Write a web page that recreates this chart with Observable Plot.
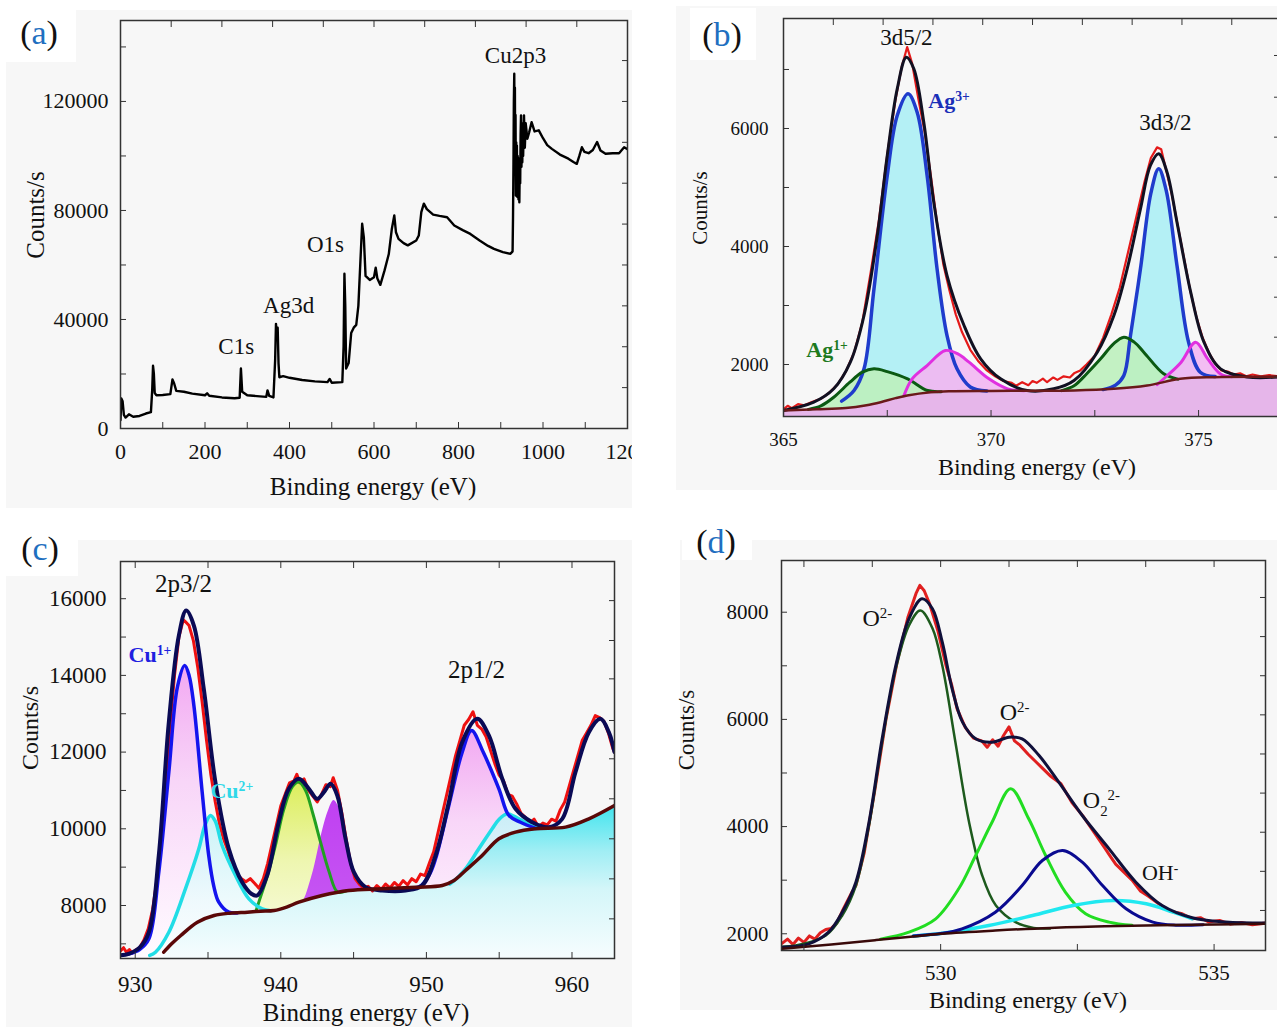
<!DOCTYPE html>
<html><head><meta charset="utf-8">
<script src="https://cdn.jsdelivr.net/npm/d3@7"></script>
<script src="https://cdn.jsdelivr.net/npm/@observablehq/plot@0.6"></script>
<style>
body{margin:0;width:1277px;height:1027px;overflow:hidden;background:#fff;position:relative;font-family:"Liberation Serif",serif;color:#111}
.box{position:absolute}
.t{position:absolute;white-space:nowrap;line-height:1;transform:translate(-50%,-50%)}
.r{transform:translate(-50%,-50%) rotate(-90deg)}
.lt span{color:#1f6fc0}
</style></head><body>
<script>
// ---------------- DATA ----------------
// (a) survey spectrum [binding energy eV, counts/s]
const survey = [[0,3000],[2,11000],[5,10000],[8,5000],[12,4000],[20,5200],[30,4300],[45,4600],[60,5500],[72,6000],[75,14000],[77,23000],[79,20000],[81,13000],[85,12200],[100,12300],[118,12600],[123,18000],[127,16500],[132,13800],[150,13500],[170,12800],[200,12200],[205,12900],[210,12000],[240,11400],[270,11100],[282,11300],[285,22000],[288,13500],[300,12200],[330,11800],[345,11600],[348,14000],[352,12000],[362,11400],[366,25000],[368,38400],[370,34000],[372,37000],[374,24000],[376,18800],[385,19200],[400,18600],[430,17800],[460,17300],[490,17000],[495,18200],[500,16800],[525,17000],[528,30000],[530,56800],[532,45000],[534,22000],[540,24000],[546,35000],[552,37000],[558,38000],[563,45000],[568,62000],[572,75100],[576,70000],[580,56000],[590,54500],[600,55500],[604,59000],[608,55000],[615,52700],[625,58000],[635,64000],[642,73000],[648,78200],[652,72000],[658,69600],[670,68000],[680,67200],[700,69000],[706,70800],[712,79400],[718,82500],[725,80500],[740,78500],[755,78000],[773,77500],[790,74500],[810,72800],[828,71400],[850,69000],[870,67000],[884,65900],[905,64700],[923,64100],[928,65000],[929,77000],[930,95000],[931,120000],[932,130200],[932.8,100000],[933.5,125000],[934.2,95000],[935,115000],[935.8,85500],[936.6,105000],[937.4,90000],[938.2,103800],[939,85000],[940,100000],[941,88000],[942,84000],[943,99000],[944,83000],[945,96000],[946,90000],[947,108000],[948,114900],[949,96000],[950,112000],[951,97700],[952,110000],[953,100000],[955,114900],[957,103000],[959,112000],[963,106300],[967,108500],[973,112400],[980,109000],[990,109400],[1000,106500],[1010,104000],[1021,102600],[1040,100500],[1060,99000],[1072,97800],[1080,97100],[1086,100000],[1092,103200],[1098,101500],[1108,101000],[1118,102200],[1128,105100],[1136,102000],[1148,100800],[1165,101000],[1180,101000],[1192,103200],[1200,102500]];
const aPeakNames = ["C1s","Ag3d","O1s","Cu2p3"];

// (b) Ag 3d
const bRaw = [[365.0,1240],[365.1,1300],[365.2,1260],[365.35,1330],[365.5,1310],[365.7,1370],[365.9,1420],[366.1,1520],[366.3,1660],[366.5,1880],[366.7,2200],[366.9,2720],[367.1,3560],[367.3,4450],[367.5,5560],[367.7,6500],[367.85,7050],[367.98,7380],[368.1,7100],[368.25,6500],[368.4,5950],[368.55,5200],[368.7,4400],[368.85,3700],[369.0,3250],[369.15,2850],[369.3,2550],[369.5,2250],[369.7,2050],[369.9,1900],[370.1,1800],[370.3,1720],[370.5,1690],[370.6,1640],[370.75,1700],[370.9,1650],[371.0,1720],[371.1,1690],[371.25,1760],[371.35,1700],[371.5,1780],[371.6,1740],[371.75,1800],[371.9,1780],[372.0,1850],[372.15,1900],[372.3,2000],[372.5,2150],[372.7,2450],[372.9,2850],[373.1,3300],[373.3,3900],[373.5,4500],[373.7,5100],[373.85,5500],[374.0,5680],[374.1,5650],[374.2,5350],[374.35,4900],[374.5,4350],[374.65,3800],[374.8,3250],[374.95,2800],[375.1,2450],[375.25,2200],[375.4,2020],[375.55,1900],[375.7,1880],[375.85,1830],[376.0,1850],[376.15,1800],[376.3,1830],[376.5,1800],[376.7,1820],[376.95,1800]];
const bEnvelope = [[365,1220],[365.73,1361],[366.21,1588],[366.61,2039],[366.94,2831],[367.26,4186],[367.5,5542],[367.74,6672],[367.96,7209],[368.14,7012],[368.38,6107],[368.62,4751],[368.94,3508],[369.35,2661],[369.75,2096],[370.23,1757],[370.87,1559],[371.51,1588],[372.0,1729],[372.56,2209],[372.96,2831],[373.28,3621],[373.6,4638],[373.84,5373],[374.04,5571],[374.24,5260],[374.48,4412],[374.81,3226],[375.13,2378],[375.53,1927],[376.17,1790],[376.95,1790]];
const bAg3_52 = [[366.4,1380],[366.7,1560],[366.94,1927],[367.18,3283],[367.5,5203],[367.74,6220],[368.0,6588],[368.22,6276],[368.46,5203],[368.7,3621],[368.94,2491],[369.18,1927],[369.5,1620],[369.9,1552]];
const bAg1_52 = [[365.6,1240],[365.9,1300],[366.21,1446],[366.6,1700],[366.9,1870],[367.18,1927],[367.5,1880],[367.99,1757],[368.47,1559],[368.8,1540]];
const bSat_52 = [[367.9,1470],[368.1,1757],[368.46,1983],[368.9,2237],[369.2,2180],[369.47,2040],[369.95,1757],[370.4,1588],[370.8,1556]];
const bAg3_32 = [[372.7,1575],[373.0,1650],[373.2,1814],[373.36,2491],[373.6,3621],[373.85,4900],[374.04,5317],[374.22,4950],[374.48,3678],[374.76,2378],[375.04,1870],[375.4,1795]];
const bAg1_32 = [[371.7,1558],[372.0,1640],[372.3,1840],[372.64,2096],[372.95,2350],[373.2,2463],[373.45,2380],[373.68,2209],[374.16,1842],[374.5,1752]];
const bSat_32 = [[374.0,1660],[374.25,1814],[374.58,2040],[374.93,2378],[375.22,2096],[375.53,1840],[375.8,1792]];
const bBackground = [[365,1220],[365.8,1240],[366.5,1262],[367,1310],[367.34,1362],[367.7,1430],[367.98,1475],[368.54,1531],[369,1548],[370,1553],[371,1556],[372,1560],[372.96,1588],[373.76,1644],[374.56,1757],[375.37,1785],[377,1790]];

// (c) Cu 2p
const cRaw = [[929.0,6820],[929.2,6900],[929.4,6780],[929.6,6850],[929.8,6760],[930.0,6830],[930.3,6900],[930.6,7100],[930.9,7400],[931.2,7900],[931.5,8700],[931.8,9800],[932.1,11200],[932.4,12700],[932.7,14000],[933.0,15000],[933.3,15450],[933.5,15380],[933.7,15300],[934.0,14900],[934.3,14200],[934.6,13300],[934.9,12300],[935.2,11400],[935.5,10700],[935.8,10100],[936.1,9700],[936.4,9400],[936.7,9000],[937.0,8800],[937.3,8700],[937.6,8620],[937.9,8700],[938.2,8580],[938.5,8450],[938.8,8700],[939.1,9100],[939.4,9600],[939.7,10100],[940.0,10600],[940.3,10900],[940.6,11200],[940.9,11250],[941.1,11420],[941.3,11200],[941.6,11300],[941.9,11000],[942.2,10850],[942.5,10700],[942.8,10900],[943.1,11150],[943.4,11100],[943.6,11330],[943.9,11000],[944.2,10400],[944.5,9700],[944.8,9100],[945.1,8700],[945.4,8550],[945.7,8450],[946.0,8500],[946.3,8380],[946.6,8520],[946.9,8420],[947.2,8560],[947.5,8460],[947.8,8600],[948.1,8500],[948.4,8650],[948.7,8540],[949.0,8700],[949.3,8620],[949.6,8820],[949.9,8780],[950.2,9100],[950.5,9400],[950.8,9900],[951.1,10400],[951.4,10900],[951.7,11400],[952.0,11900],[952.3,12300],[952.6,12700],[952.9,12850],[953.2,13050],[953.5,12700],[953.8,12600],[954.1,12400],[954.4,12050],[954.7,11700],[955.0,11400],[955.3,11250],[955.6,10900],[955.9,10850],[956.2,10650],[956.5,10400],[956.8,10300],[957.1,10150],[957.4,10250],[957.7,10050],[958.0,10150],[958.3,10100],[958.6,10250],[958.9,10200],[959.2,10500],[959.5,10700],[959.8,11100],[960.1,11500],[960.4,11900],[960.7,12300],[961.0,12500],[961.3,12700],[961.6,12950],[961.9,12900],[962.2,12800],[962.5,12500],[962.8,12100],[962.92,12000]];
const cEnvelope = [[929.0,6700],[929.55,6740],[930.3,6900],[930.94,7304],[931.62,9304],[932.31,12780],[933.0,15041],[933.5,15692],[934.03,15301],[934.71,13650],[935.51,11215],[936.43,9478],[937.35,8608],[938.0,8300],[938.38,8261],[939.06,8782],[939.86,10172],[940.55,11043],[941.24,11304],[941.93,11043],[942.5,10782],[942.96,10956],[943.42,11174],[943.88,10869],[944.45,9739],[945.02,8869],[945.82,8478],[946.97,8391],[948.57,8391],[949.71,8521],[950.63,9304],[951.54,10695],[952.46,12259],[953.49,12868],[954.29,12433],[955.21,11304],[956.12,10521],[957.27,10172],[958.41,10043],[959.33,10260],[960.24,11476],[961.16,12520],[961.96,12868],[962.53,12520],[962.92,12000]];
const cCu1_32 = [[929.6,6740],[930.3,6850],[930.94,7131],[931.62,8869],[932.31,11476],[932.9,13700],[933.4,14258],[933.7,14000],[934.03,13215],[934.6,10956],[935.05,9304],[935.4,8500],[935.74,8087],[936.43,7826],[937,7805]];
const cCu2_32 = [[931.0,6700],[931.39,6783],[932.31,7304],[933.45,8434],[934.37,9478],[934.8,10100],[935.17,10347],[935.5,10200],[935.97,9565],[936.89,8782],[937.81,8174],[938.72,7913],[939.3,7862]];
const cSatA = [[938.3,7860],[938.49,8087],[939.1,8800],[939.63,9565],[940.2,10500],[940.8,11100],[941.24,11217],[941.7,11000],[942.2,10400],[942.73,9652],[943.3,8900],[943.9,8350],[944.5,8380]];
const cSatB = [[941.2,8070],[941.47,8087],[942.15,8782],[942.84,9913],[943.3,10500],[943.65,10738],[944.0,10550],[944.22,10174],[944.67,9304],[945.1,8695],[945.7,8435],[946.2,8420]];
const cCu1_12 = [[948.5,8460],[949.5,8485],[950.2,8800],[950.63,9217],[951.54,10608],[952.46,12000],[953.1,12563],[953.9,12000],[954.98,11043],[955.67,10347],[956.46,10170],[957.5,10010]];
const cCu2_12 = [[951.6,8560],[952.2,8750],[952.7,8960],[953.6,9478],[954.52,10000],[955.0,10250],[955.56,10390],[956.0,10330],[956.58,10217],[957.5,10043],[958.2,10040]];
const cBackground = [[931.96,6783],[932.5,7000],[933.13,7218],[934.27,7565],[935.42,7739],[936.5,7800],[937.71,7826],[938.6,7850],[939.54,7870],[940.4,7960],[941.24,8087],[942.84,8261],[944.67,8391],[946.97,8435],[949.26,8478],[951.09,8521],[951.9,8650],[952.69,8913],[953.83,9304],[954.98,9739],[956.12,9913],[957.5,10000],[959.56,10043],[961.16,10260],[962.92,10608]];

// (d) O 1s
const dRaw = [[527.1,1820],[527.2,1900],[527.3,1800],[527.4,1920],[527.5,1840],[527.6,1960],[527.7,1900],[527.8,2020],[527.9,2080],[528.0,2100],[528.1,2200],[528.2,2420],[528.3,2620],[528.38,2780],[528.45,2900],[528.6,3500],[528.8,4700],[529.0,6000],[529.2,7050],[529.4,7900],[529.55,8350],[529.62,8500],[529.7,8400],[529.8,8150],[529.95,7650],[530.1,7000],[530.2,6650],[530.3,6200],[530.45,5850],[530.6,5650],[530.75,5600],[530.85,5480],[530.95,5620],[531.05,5500],[531.15,5700],[531.25,5860],[531.35,5600],[531.45,5520],[531.6,5350],[531.75,5200],[531.85,5100],[532.0,4950],[532.2,4800],[532.4,4450],[532.6,4200],[532.8,3900],[533.0,3600],[533.1,3450],[533.2,3300],[533.35,3150],[533.5,3000],[533.65,2800],[533.8,2700],[534.0,2550],[534.2,2420],[534.4,2380],[534.6,2280],[534.75,2300],[534.9,2220],[535.1,2250],[535.3,2180],[535.5,2210],[535.7,2170],[535.94,2200]];
const dEnvelope = [[527.1,1750],[527.59,1813],[527.95,2030],[528.2,2403],[528.45,2963],[528.69,4082],[528.93,5638],[529.18,7006],[529.42,7877],[529.66,8250],[529.85,8064],[530.03,7440],[530.21,6571],[530.4,5949],[530.64,5638],[530.94,5575],[531.25,5669],[531.49,5638],[531.8,5326],[532.16,4829],[532.59,4207],[533.08,3585],[533.57,2963],[534.05,2528],[534.6,2300],[535.21,2220],[535.94,2200]];
const dO2a = [[527.1,1760],[527.35,1780],[527.9,1967],[528.2,2341],[528.45,2900],[528.69,4020],[528.93,5575],[529.18,6944],[529.42,7750],[529.63,8032],[529.85,7700],[530.03,7006],[530.27,5575],[530.52,4082],[530.76,3088],[531.01,2528],[531.37,2217],[531.7,2110],[532.0,2100]];
const dO2b = [[528.9,1900],[529.42,2030],[529.91,2279],[530.33,2839],[530.64,3460],[530.94,4082],[531.28,4705],[531.61,4145],[531.92,3460],[532.28,2777],[532.65,2373],[533.08,2217],[533.5,2160]];
const dO22 = [[529.5,1960],[530.03,2010],[530.39,2092],[531.0,2403],[531.49,2900],[531.86,3367],[532.23,3554],[532.59,3336],[532.96,2900],[533.39,2466],[533.88,2217],[534.3,2160],[534.8,2170]];
const dOH = [[529.5,1960],[530.03,2010],[530.88,2155],[531.68,2341],[532.42,2528],[533.15,2621],[533.76,2559],[534.25,2403],[534.6,2280]];
const dBackground = [[527.1,1720],[528.0,1800],[528.8,1880],[529.5,1950],[530.03,2000],[531.0,2060],[532.0,2110],[533.0,2140],[534.0,2160],[535.0,2175],[535.94,2185]];

// tick values
const aXLabels=[0,200,400,600,800,1000,1200], aYLabels=[0,40000,80000,120000];
const aXBottom=d3.range(100,1200,100), aXTop=d3.range(120,1200,120), aYLeft=d3.range(20000,149000,20000), aYRight=d3.range(15000,149000,15000);
const bXLabels=[365,370,375], bYLabels=[2000,4000,6000];
const bXBottom=[365,367.5,370,372.5,375], bXTop=[366.2,367.4,368.6,369.8,371,372.2,373.4,374.6,375.8], bYLeft=[2000,3000,4000,5000,6000,7000], bYRight=[1785,2463,3141,3819,4497,5175,5853,6530,7237];
const cXLabels=[930,940,950,960], cYLabels=[8000,10000,12000,14000,16000];
const cXBottom=[930,935,940,945,950,955,960], cXTop=[930,935,940,945,950,955,960], cYLeft=d3.range(7000,16001,1000), cYRight=[7652,8695,9739,10782,11825,12824,13910,14910,15950];
const dXLabels=[530,535], dYLabels=[2000,4000,6000,8000];
const dXBottom=[527.5,530,532.5,535], dXTop=[527.5,528.75,530,531.25,532.5,533.75,535], dYLeft=d3.range(2000,8001,1000), dYRight=[2435,3165,3895,4625,5355,6085,6815,7545,8275];

// ---------------- HELPERS ----------------
const X = d => d[0], Y = d => d[1];
function div(cls, html, style){const e=document.createElement("div");e.className=cls;e.innerHTML=html;Object.assign(e.style,style);document.body.appendChild(e);return e;}
function richText(svg){
  svg.querySelectorAll("text").forEach(t=>{
    const s=t.textContent; if(!/[\^_]/.test(s)) return;
    const toks=s.match(/\^[^_^]+|_[^_^]|[^_^]+/g);
    t.textContent="";
    for(const tok of toks){
      const ts=document.createElementNS("http://www.w3.org/2000/svg","tspan");
      if(tok[0]==="^"){ts.textContent=tok.slice(1);ts.setAttribute("baseline-shift","super");ts.style.fontSize="0.62em";}
      else if(tok[0]==="_"){ts.textContent=tok.slice(1);ts.setAttribute("baseline-shift","sub");ts.style.fontSize="0.62em";}
      else ts.textContent=tok;
      t.appendChild(ts);
    }
  });
}
function axes(o){
  const tc="#333", fmt=d=>String(d);
  return [
    Plot.axisX({anchor:"bottom",ticks:o.xl,tickSize:0,tickPadding:o.xp,fontSize:o.fs,tickFormat:fmt,label:null,color:"#111"}),
    Plot.axisY({anchor:"left",ticks:o.yl,tickSize:0,tickPadding:o.yp,fontSize:o.fs,tickFormat:fmt,label:null,color:"#111"}),
    Plot.axisX({anchor:"bottom",ticks:o.xb,tickSize:6,dy:-6,tickFormat:()=>"",label:null,stroke:tc}),
    Plot.axisX({anchor:"top",ticks:o.xt,tickSize:6,dy:6,tickFormat:()=>"",label:null,stroke:tc}),
    Plot.axisY({anchor:"left",ticks:o.ylt,tickSize:6,dx:6,tickFormat:()=>"",label:null,stroke:tc}),
    Plot.axisY({anchor:"right",ticks:o.yrt,tickSize:6,dx:-6,tickFormat:()=>"",label:null,stroke:tc})
  ];
}
function defs(html){return ()=>{const g=document.createElementNS("http://www.w3.org/2000/svg","g");g.innerHTML="<defs>"+html+"</defs>";return g;};}
function grad(id,stops){return `<linearGradient id="${id}" x1="0" y1="0" x2="0" y2="1">`+stops.map(([o,c])=>`<stop offset="${o}" stop-color="${c}"/>`).join("")+"</linearGradient>";}
function lab(text,x,y,o={}){return Plot.text([text],{x:[x],y:[y],text:d=>d,...o});}
function panel(p){
  const svg=Plot.plot({width:p.w,height:p.h,marginLeft:p.ml,marginRight:p.mr,marginTop:p.mt,marginBottom:p.mb,
    x:{domain:p.xd},y:{domain:p.yd},
    style:{background:"transparent",fontFamily:"Liberation Serif, serif",color:"#111",overflow:"visible",maxWidth:"none"},
    marks:p.marks});
  svg.style.maxWidth="none";
  richText(svg);
  const wrap=document.createElement("div");
  wrap.style.cssText=`position:absolute;left:${p.left}px;top:${p.top}px;width:${p.clipW||p.w}px;height:${p.h}px;overflow:hidden`;
  wrap.appendChild(svg);document.body.appendChild(wrap);
}
const line=(data,stroke,sw,curve="catmull-rom")=>Plot.line(data,{x:X,y:Y,stroke,strokeWidth:sw,curve,clip:true});
// area filled from the bottom of the frame (base) up to the curve
const area=(data,base,fill,op=1)=>Plot.areaY(data,{x:X,y1:base,y2:Y,fill,fillOpacity:op,curve:"catmull-rom",clip:true});

// ---------------- BACKGROUND BOXES ----------------
const gray="#f7f7f7";
div("box","",{left:"6px",top:"10px",width:"626px",height:"498px",background:gray});
div("box","",{left:"676px",top:"6px",width:"601px",height:"484px",background:gray});
div("box","",{left:"6px",top:"540px",width:"626px",height:"487px",background:gray});
div("box","",{left:"680px",top:"540px",width:"597px",height:"470px",background:gray});
div("box","",{left:"6px",top:"10px",width:"70px",height:"52px",background:"#fff"});
div("box","",{left:"690px",top:"8px",width:"66px",height:"52px",background:"#fff"});
div("box","",{left:"6px",top:"536px",width:"72px",height:"40px",background:"#fff"});
div("box","",{left:"682px",top:"520px",width:"70px",height:"40px",background:"#fff"});

// ---------------- PANEL (a) ----------------
panel({left:0,top:0,w:640,h:510,clipW:632,ml:120,mr:13,mt:20,mb:82,xd:[0,1200],yd:[0,149700],marks:[
  line(survey,"#000",2.4,"linear"),
  lab(aPeakNames[0],274,30100,{fontSize:23}),
  lab(aPeakNames[1],398,45100,{fontSize:23}),
  lab(aPeakNames[2],485,67500,{fontSize:23}),
  lab(aPeakNames[3],935,136900,{fontSize:23}),
  ...axes({xl:aXLabels,yl:aYLabels,xb:aXBottom,xt:aXTop,ylt:aYLeft,yrt:aYRight,fs:22,xp:15,yp:12}),
  Plot.frame({stroke:"#333",strokeWidth:1.5})
]});

// ---------------- PANEL (b) ----------------
const bMin=1119;
panel({left:640,top:0,w:650,h:510,ml:143,mr:11,mt:18,mb:94,xd:[365,376.95],yd:[bMin,7864],marks:[
  area(bAg3_52,bMin,"#b4f0f5"), area(bAg3_32,bMin,"#b4f0f5"),
  area(bSat_52,bMin,"#f2b6f2",0.9), area(bSat_32,bMin,"#f2b6f2",0.9),
  area(bAg1_52,bMin,"#bcf0bc",0.9), area(bAg1_32,bMin,"#bcf0bc",0.9),
  area(bBackground,bMin,"#e6b6ea"),
  line(bRaw,"#e41a1a",2.2,"linear"),
  line(bAg3_52,"#1f3ccc",3.5), line(bAg3_32,"#1f3ccc",3.5),
  line(bAg1_52,"#0b5a12",3), line(bAg1_32,"#0b5a12",3),
  line(bSat_52,"#e030e0",3), line(bSat_32,"#e030e0",3),
  line(bEnvelope,"#111122",3),
  line(bBackground,"#6a1a1a",2.5),
  lab("3d5/2",367.96,7542,{fontSize:23}),
  lab("3d3/2",374.2,6100,{fontSize:23}),
  lab("Ag^3+",368.49,6475,{fontSize:22,fontWeight:"bold",fill:"#1a2fb8",textAnchor:"start"}),
  lab("Ag^1+",365.55,2254,{fontSize:22,fontWeight:"bold",fill:"#1e7a1e",textAnchor:"start"}),
  ...axes({xl:bXLabels,yl:bYLabels,xb:bXBottom,xt:bXTop,ylt:bYLeft,yrt:bYRight,fs:19,xp:16,yp:15}),
  Plot.frame({stroke:"#333",strokeWidth:1.5})
]});

// ---------------- PANEL (c) ----------------
const cMin=6618;
panel({left:0,top:510,w:640,h:517,ml:120,mr:26,mt:51,mb:69,xd:[928.99,962.92],yd:[cMin,16970],marks:[
  defs(grad("gPink",[[0,"#f2a8f2"],[0.4,"#f8d6f8"],[1,"#fffbff"]])+grad("gCyan",[[0,"#c2f2f7"],[0.6,"#ecfbfd"],[1,"#fdffff"]])+grad("gYel",[[0,"#dcee5c"],[0.45,"#eef6b0"],[1,"#fbfdec"]])+grad("gBg",[[0,"#40e4ee"],[0.3,"#a0eef4"],[0.55,"#d4f6f9"],[1,"#f6fdfe"]])+grad("gPur",[[0,"#c040f2"],[1,"#c860f2"]])),
  area(cCu1_32,cMin,"url(#gPink)"), area(cCu1_12,cMin,"url(#gPink)"),
  area(cCu2_32,cMin,"url(#gCyan)",0.85), area(cCu2_12,cMin,"url(#gCyan)",0.85),
  area(cSatA,cMin,"url(#gYel)"), area(cSatB,cMin,"url(#gPur)"),
  area(cBackground,cMin,"url(#gBg)"),
  line(cRaw,"#ee1111",3,"linear"),
  line(cSatA,"#22a022",3),
  line(cCu2_32,"#22dde6",3.5), line(cCu2_12,"#22dde6",3.5),
  line(cCu1_32,"#1414ee",3.5), line(cCu1_12,"#1414ee",3.5),
  line(cEnvelope,"#0a0a55",4),
  line(cBackground,"#5a0808",3.5),
  lab("2p3/2",933.32,16396,{fontSize:25}),
  lab("2p1/2",953.44,14128,{fontSize:25}),
  lab("Cu^1+",929.54,14545,{fontSize:22,fontWeight:"bold",fill:"#2020e0",textAnchor:"start"}),
  lab("Cu^2+",935.17,10999,{fontSize:22,fontWeight:"bold",fill:"#30d8e8",textAnchor:"start"}),
  ...axes({xl:cXLabels,yl:cYLabels,xb:cXBottom,xt:cXTop,ylt:cYLeft,yrt:cYRight,fs:23,xp:17,yp:14}),
  Plot.frame({stroke:"#333",strokeWidth:1.5})
]});

// ---------------- PANEL (d) ----------------
panel({left:640,top:510,w:637,h:517,ml:141,mr:12,mt:50,mb:77,xd:[527.09,535.94],yd:[1688,8965],marks:[
  line(dRaw,"#e02020",3,"linear"),
  line(dO2a,"#1d5a1d",2.5),
  line(dO2b,"#22dd22",3),
  line(dOH,"#20e8f0",3.5),
  line(dO22,"#0a0a90",3),
  line(dEnvelope,"#10103a",3),
  line(dBackground,"#3a0a0a",2.5),
  lab("O^2-",528.57,7882,{fontSize:24,textAnchor:"start"}),
  lab("O^2-",531.08,6129,{fontSize:24,textAnchor:"start"}),
  lab("O_2^2-",532.6,4487,{fontSize:24,textAnchor:"start"}),
  lab("OH^-",533.68,3144,{fontSize:22,textAnchor:"start"}),
  ...axes({xl:dXLabels,yl:dYLabels,xb:dXBottom,xt:dXTop,ylt:dYLeft,yrt:dYRight,fs:21,xp:15,yp:13}),
  Plot.frame({stroke:"#333",strokeWidth:1.5})
]});

// ---------------- TITLES ----------------
div("t lt","(<span>a</span>)",{left:"39px",top:"33px",fontSize:"34px"});
div("t lt","(<span>b</span>)",{left:"722px",top:"35px",fontSize:"34px"});
div("t lt","(<span>c</span>)",{left:"40px",top:"549px",fontSize:"34px"});
div("t lt","(<span>d</span>)",{left:"716px",top:"542px",fontSize:"34px"});
div("t","Binding energy (eV)",{left:"373px",top:"486px",fontSize:"25px"});
div("t r","Counts/s",{left:"35px",top:"215px",fontSize:"25px"});
div("t","Binding energy (eV)",{left:"1037px",top:"467px",fontSize:"24px"});
div("t r","Counts/s",{left:"700px",top:"208px",fontSize:"21px"});
div("t","Binding energy (eV)",{left:"366px",top:"1012px",fontSize:"25px"});
div("t r","Counts/s",{left:"30px",top:"728px",fontSize:"24px"});
div("t","Binding energy (eV)",{left:"1028px",top:"1000px",fontSize:"24px"});
div("t r","Counts/s",{left:"686px",top:"730px",fontSize:"23px"});
</script>
</body></html>
